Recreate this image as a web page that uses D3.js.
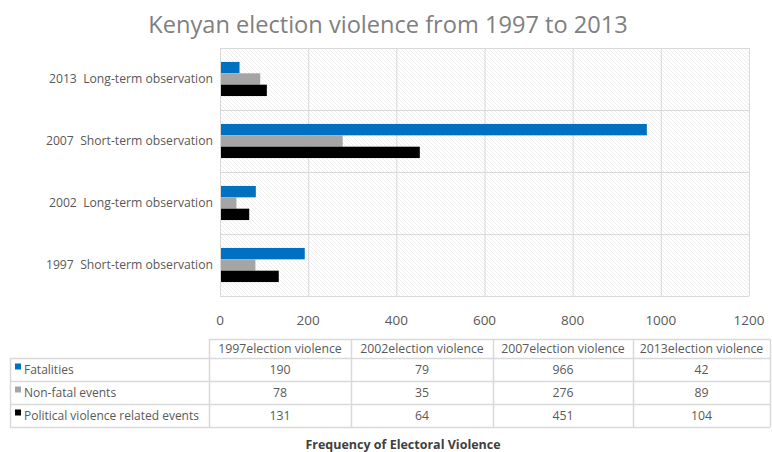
<!DOCTYPE html>
<html>
<head>
<meta charset="utf-8">
<script src="https://cdn.jsdelivr.net/npm/d3@7"></script>
<style>
  body { margin: 0; background: #fff; }
  svg { display: block; font-family: "Open Sans", "Noto Sans", sans-serif; }
</style>
</head>
<body>
<div id="chart"></div>
<script>
// data
var categories = ["1997  Short-term observation", "2002  Long-term observation", "2007  Short-term observation", "2013  Long-term observation"];
var columns = ["1997election violence", "2002election violence", "2007election violence", "2013election violence"];
var seriesNames = ["Fatalities", "Non-fatal events", "Political violence related events"];
var fatalities = [190, 79, 966, 42];
var nonFatal = [78, 35, 276, 89];
var political = [131, 64, 451, 104];
var xTicks = [0, 200, 400, 600, 800, 1000, 1200];

var COLORS = ["#0070C0", "#A5A5A5", "#000000"];
var W = 772, H = 452;
var TEXT = "#595959";
var GRID = "#d9d9d9";

var values = [fatalities, nonFatal, political];
var rows = categories.map(function(c, i) {
    return {cat: c, vals: values.map(function(v, s) { return {s: s, v: v[i]}; })};
});

var svg = d3.select('#chart').append('svg').attr('width', W).attr('height', H);

var defs = svg.append('defs');
var pat = defs.append('pattern').attr('id', 'hatch').attr('patternUnits', 'userSpaceOnUse')
    .attr('width', 4).attr('height', 4);
pat.append('rect').attr('width', 4).attr('height', 4).attr('fill', '#fff');
pat.append('path').attr('d', 'M-1,-1 L5,5 M-1,3 L1,5 M3,-1 L5,1')
    .attr('stroke', '#eeeeee').attr('stroke-width', 1);

// title
svg.append('text')
    .attr('x', 388).attr('y', 33)
    .attr('text-anchor', 'middle')
    .attr('fill', '#808080')
    .style('font-size', '23.6px')
    .text('Kenyan election violence from 1997 to 2013');

// plot
var pLeft = 220, pRight = 749, pTop = 48, pBottom = 296;
var x = d3.scaleLinear().domain([0, 1200]).range([pLeft, pRight]);
var y0 = d3.scaleBand().domain(categories.slice().reverse()).range([pTop, pBottom]).paddingInner(0.45).paddingOuter(0.225);
var y1 = d3.scaleBand().domain([0, 1, 2]).range([0, y0.bandwidth()]);

svg.append('rect').attr('x', pLeft).attr('y', pTop).attr('width', pRight - pLeft).attr('height', pBottom - pTop)
    .attr('fill', 'url(#hatch)');

var g = svg.append('g');
// vertical grid
g.selectAll('.vgrid').data(xTicks).enter().append('line')
    .attr('x1', function(d) { return x(d) + 0.5; }).attr('x2', function(d) { return x(d) + 0.5; })
    .attr('y1', pTop).attr('y2', pBottom)
    .attr('stroke', GRID);
// horizontal grid (band boundaries)
var step = y0.step();
var hLines = d3.range(categories.length + 1).map(function(i) { return pTop + i * step; });
g.selectAll('.hgrid').data(hLines).enter().append('line')
    .attr('x1', pLeft).attr('x2', pRight)
    .attr('y1', function(d) { return Math.round(d) + 0.5; }).attr('y2', function(d) { return Math.round(d) + 0.5; })
    .attr('stroke', GRID);

// bars
var groups = svg.append('g').selectAll('.grp').data(rows).enter().append('g')
    .attr('transform', function(d) { return 'translate(0,' + y0(d.cat) + ')'; });
groups.selectAll('rect').data(function(d) { return d.vals; }).enter().append('rect')
    .attr('x', x(0) + 1)
    .attr('y', function(d) { return y1(d.s); })
    .attr('width', function(d) { return x(d.v) - x(0); })
    .attr('height', y1.bandwidth())
    .attr('fill', function(d) { return COLORS[d.s]; });

// category labels
svg.append('g').selectAll('text').data(categories).enter().append('text')
    .attr('x', 213)
    .attr('y', function(d) { return y0(d) + y0.bandwidth() / 2; })
    .attr('dy', '0.35em')
    .attr('text-anchor', 'end')
    .attr('fill', TEXT)
    .style('font-size', '12.2px')
    .style('white-space', 'pre')
    .text(function(d) { return d; });

// x tick labels
svg.append('g').selectAll('text').data(xTicks).enter().append('text')
    .attr('x', function(d) { return x(d); })
    .attr('y', 325)
    .attr('text-anchor', 'middle')
    .attr('fill', TEXT)
    .style('font-size', '13.5px')
    .text(function(d) { return d; });

// data table
var colX = [209, 351, 493, 633, 770];
var rowY = [339, 358, 381, 404, 427];
var tbl = svg.append('g').attr('class', 'table');
function hl(x1, x2, yy) {
    tbl.append('line').attr('x1', x1).attr('x2', x2).attr('y1', yy + 0.5).attr('y2', yy + 0.5).attr('stroke', GRID).attr('stroke-width', 1.5);
}
function vl(xx, y1_, y2_) {
    tbl.append('line').attr('x1', xx + 0.5).attr('x2', xx + 0.5).attr('y1', y1_).attr('y2', y2_).attr('stroke', GRID).attr('stroke-width', 1.5);
}
hl(colX[0], colX[4], rowY[0]);
for (var r = 1; r < rowY.length; r++) hl(10, colX[4], rowY[r]);
vl(10, rowY[1], rowY[4]);
colX.forEach(function(cx) { vl(cx, rowY[0], rowY[4]); });

tbl.selectAll('.colh').data(columns).enter().append('text')
    .attr('x', function(d, i) { return (colX[i] + colX[i + 1]) / 2; })
    .attr('y', (rowY[0] + rowY[1]) / 2).attr('dy', '0.35em')
    .attr('text-anchor', 'middle').attr('fill', TEXT).style('font-size', '12.3px')
    .text(function(d) { return d; });

seriesNames.forEach(function(name, s) {
    var cy = (rowY[s + 1] + rowY[s + 2]) / 2;
    tbl.append('rect').attr('x', 15).attr('y', cy - 6).attr('width', 6).attr('height', 6).attr('fill', COLORS[s]);
    tbl.append('text').attr('x', 24).attr('y', cy).attr('dy', '0.35em')
        .attr('fill', TEXT).style('font-size', '12px').text(name);
    tbl.selectAll('.v' + s).data(values[s]).enter().append('text')
        .attr('x', function(d, i) { return (colX[i] + colX[i + 1]) / 2; })
        .attr('y', cy).attr('dy', '0.35em')
        .attr('text-anchor', 'middle').attr('fill', TEXT).style('font-size', '12.3px')
        .text(function(d) { return d; });
});

// axis title
svg.append('text')
    .attr('x', 403).attr('y', 449)
    .attr('text-anchor', 'middle')
    .attr('fill', '#404040')
    .style('font-size', '12.5px').style('font-weight', 'bold')
    .text('Frequency of Electoral Violence');
</script>
</body>
</html>
